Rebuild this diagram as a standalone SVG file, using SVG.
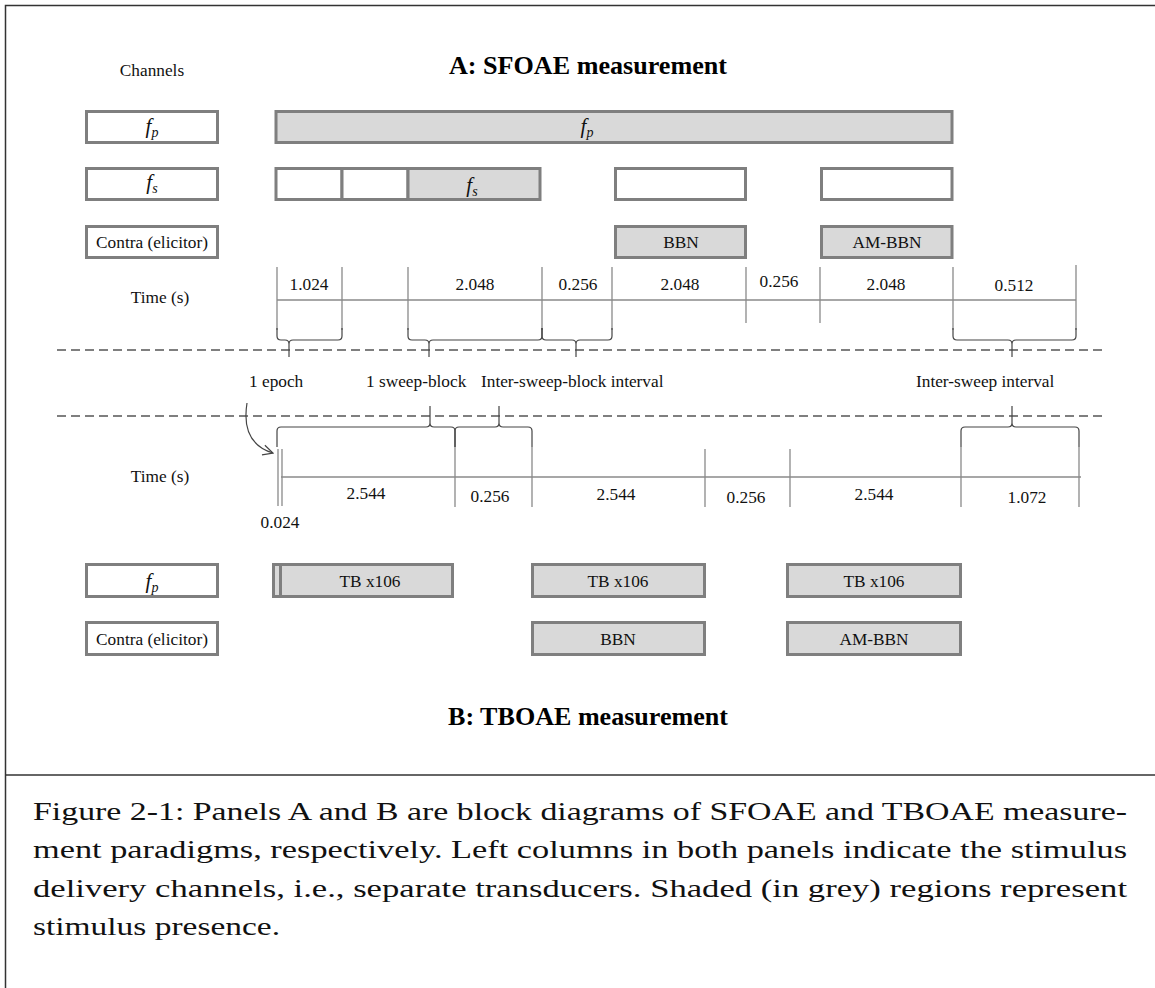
<svg xmlns="http://www.w3.org/2000/svg" width="1155" height="988" viewBox="0 0 1155 988">
  <defs>
    <style>
      .t { font-family: "Liberation Serif", "Times New Roman", serif; font-size: 17.3px; fill: #111; }
      .c { text-anchor: middle; }
      .it { font-style: italic; }
      .title { font-family: "Liberation Serif", "Times New Roman", serif; font-size: 26px; font-weight: bold; fill: #000; text-anchor: middle; }
      .cap { font-family: "Liberation Serif", "Times New Roman", serif; font-size: 25px; fill: #111; }
      .box { fill: #ffffff; stroke: #7f7f7f; stroke-width: 3; }
      .on { fill: #d9d9d9; stroke: #7f7f7f; stroke-width: 3; }
      .tick { stroke: #8a8a8a; stroke-width: 1.3; fill: none; }
      .brace { stroke: #444; stroke-width: 1.2; fill: none; }
      .dash { stroke: #555; stroke-width: 1.5; stroke-dasharray: 9 5; fill: none; }
      .frame { stroke: #333; stroke-width: 1.5; fill: none; }
    </style>
    <marker id="open" viewBox="0 0 12 12" refX="11" refY="6" markerWidth="12" markerHeight="12" markerUnits="userSpaceOnUse" orient="auto">
      <path d="M1,1 L11,6 L1,11" fill="none" stroke="#444" stroke-width="1.2"/>
    </marker>
  </defs>

  <rect width="1155" height="988" fill="#ffffff"/>

  <!-- frame and caption separator -->
  <g id="frame">
    <path class="frame" d="M5.5,988 V5.5 H1155"/>
    <path class="frame" d="M5.5,775 H1155"/>
  </g>

  <!-- panel A -->
  <g id="panelA">
    <text class="t c" x="152" y="76">Channels</text>
    <text class="title" x="588" y="74" textLength="278" lengthAdjust="spacingAndGlyphs">A: SFOAE measurement</text>

    <g id="chanA-fp">
      <rect class="box" x="86.5" y="111.5" width="131" height="31"/>
      <text class="t c it" x="152" y="133"><tspan font-size="21">f</tspan><tspan font-size="14" dy="4">p</tspan></text>
    </g>
    <g id="chanA-fs">
      <rect class="box" x="86.5" y="168.5" width="131" height="31"/>
      <text class="t c it" x="152" y="189"><tspan font-size="21">f</tspan><tspan font-size="14" dy="4">s</tspan></text>
    </g>
    <g id="chanA-contra">
      <rect class="box" x="86.5" y="226.5" width="131" height="31"/>
      <text class="t c" x="152" y="248">Contra (elicitor)</text>
    </g>

    <g id="A-fp-bar">
      <rect class="on" x="276" y="111.5" width="676" height="31"/>
      <text class="t c it" x="587" y="133"><tspan font-size="21">f</tspan><tspan font-size="14" dy="4">p</tspan></text>
    </g>
    <g id="A-fs-1"><rect class="box" x="276" y="168.5" width="66" height="31"/></g>
    <g id="A-fs-2"><rect class="box" x="342" y="168.5" width="66" height="31"/></g>
    <g id="A-fs-3">
      <rect class="on" x="408" y="168.5" width="132" height="31"/>
      <text class="t c it" x="472" y="192"><tspan font-size="21">f</tspan><tspan font-size="14" dy="4">s</tspan></text>
    </g>
    <g id="A-fs-4"><rect class="box" x="615.5" y="168.5" width="130" height="31"/></g>
    <g id="A-fs-5"><rect class="box" x="821.5" y="168.5" width="130.5" height="31"/></g>
    <g id="A-bbn">
      <rect class="on" x="615.5" y="226.5" width="130" height="31"/>
      <text class="t c" x="681" y="248">BBN</text>
    </g>
    <g id="A-ambbn">
      <rect class="on" x="821.5" y="226.5" width="130.5" height="31"/>
      <text class="t c" x="887" y="248">AM-BBN</text>
    </g>

    <g id="A-time">
      <text class="t c" x="160" y="303">Time (s)</text>
      <text class="t c" x="309" y="290">1.024</text>
      <text class="t c" x="475" y="290">2.048</text>
      <text class="t c" x="578" y="290">0.256</text>
      <text class="t c" x="680" y="290">2.048</text>
      <text class="t c" x="779" y="287">0.256</text>
      <text class="t c" x="886" y="290">2.048</text>
      <text class="t c" x="1014" y="291">0.512</text>
    </g>
  </g>

  <!-- dashed separators and interval names -->
  <g id="legend">
    <line class="dash" x1="57" y1="350" x2="1105" y2="350"/>
    <line class="dash" x1="57" y1="416" x2="1105" y2="416"/>
    <text class="t" x="249" y="387">1 epoch</text>
    <text class="t" x="366" y="387">1 sweep-block</text>
    <text class="t" x="481" y="387">Inter-sweep-block interval</text>
    <text class="t" x="916" y="387">Inter-sweep interval</text>
  </g>

  <!-- panel B -->
  <g id="panelB">
    <g id="B-time">
      <text class="t c" x="160" y="482">Time (s)</text>
      <text class="t c" x="366" y="499">2.544</text>
      <text class="t c" x="490" y="502">0.256</text>
      <text class="t c" x="616" y="500">2.544</text>
      <text class="t c" x="746" y="503">0.256</text>
      <text class="t c" x="874" y="500">2.544</text>
      <text class="t c" x="1027" y="503">1.072</text>
      <text class="t c" x="280" y="528">0.024</text>
    </g>

    <g id="chanB-fp">
      <rect class="box" x="86.5" y="564.5" width="131" height="32"/>
      <text class="t c it" x="152" y="588"><tspan font-size="21">f</tspan><tspan font-size="14" dy="4">p</tspan></text>
    </g>
    <g id="chanB-contra">
      <rect class="box" x="86.5" y="622.5" width="131" height="32"/>
      <text class="t c" x="152" y="645">Contra (elicitor)</text>
    </g>

    <g id="B-tb-1">
      <rect class="on" x="273.5" y="564.5" width="7" height="32"/>
      <rect class="on" x="280.5" y="564.5" width="172" height="32"/>
      <text class="t c" x="370" y="587">TB x106</text>
    </g>
    <g id="B-tb-2">
      <rect class="on" x="532.5" y="564.5" width="172" height="32"/>
      <text class="t c" x="618" y="587">TB x106</text>
    </g>
    <g id="B-tb-3">
      <rect class="on" x="787.5" y="564.5" width="173" height="32"/>
      <text class="t c" x="874" y="587">TB x106</text>
    </g>
    <g id="B-bbn">
      <rect class="on" x="532.5" y="622.5" width="172" height="32"/>
      <text class="t c" x="618" y="645">BBN</text>
    </g>
    <g id="B-ambbn">
      <rect class="on" x="787.5" y="622.5" width="173" height="32"/>
      <text class="t c" x="874" y="645">AM-BBN</text>
    </g>

    <text class="title" x="588" y="725" textLength="280" lengthAdjust="spacingAndGlyphs">B: TBOAE measurement</text>
  </g>

  <!-- time axes, ticks, braces and the epoch arrow -->
  <g id="connectors">
    <!-- axis A -->
    <line class="tick" x1="277" y1="300" x2="1076" y2="300"/>
    <path class="tick" d="M277,267 V330 M342,267 V330 M408,267 V330 M542,267 V330 M612,267 V330 M746,267 V323 M820,267 V323 M953,267 V330 M1076,265 V330"/>
    <!-- braces under axis A -->
    <path class="brace" d="M277,328 V336 Q277,340 281,340 H285 Q289,340 289,344 V357 M289,344 Q289,340 293,340 H338 Q342,340 342,336 V328"/>
    <path class="brace" d="M408,328 V336 Q408,340 412,340 H425 Q429,340 429,344 V357 M429,344 Q429,340 433,340 H538 Q542,340 542,336 V328"/>
    <path class="brace" d="M542,328 V336 Q542,340 546,340 H572 Q576,340 576,344 V357 M576,344 Q576,340 580,340 H608 Q612,340 612,336 V328"/>
    <path class="brace" d="M953,328 V336 Q953,340 957,340 H1008 Q1012,340 1012,344 V357 M1012,344 Q1012,340 1016,340 H1072 Q1076,340 1076,336 V328"/>

    <!-- axis B -->
    <line class="tick" x1="281" y1="477" x2="1081" y2="477"/>
    <path class="tick" stroke="#a8a8a8" d="M278,449 V506 M282,449 V506"/>
    <path class="tick" d="M455,447 V507 M532,447 V507 M705,449 V507 M790,449 V507 M961,447 V507 M1079,447 V507"/>
    <!-- braces over axis B -->
    <path class="brace" d="M277,447 V431 Q277,427 281,427 H426 Q430,427 430,423 V406 M430,423 Q430,427 434,427 H451 Q455,427 455,431 V447"/>
    <path class="brace" d="M455,447 V431 Q455,427 459,427 H495 Q499,427 499,423 V406 M499,423 Q499,427 503,427 H528 Q532,427 532,431 V447"/>
    <path class="brace" d="M961,447 V431 Q961,427 965,427 H1008 Q1012,427 1012,423 V406 M1012,423 Q1012,427 1016,427 H1075 Q1079,427 1079,431 V447"/>

    <!-- epoch pointer -->
    <path class="brace" d="M247,403 C243,428 250,446 273,453" marker-end="url(#open)"/>
  </g>

  <!-- caption -->
  <g id="caption">
    <text class="cap" x="33" y="820" textLength="1094" lengthAdjust="spacingAndGlyphs">Figure 2-1: Panels A and B are block diagrams of SFOAE and TBOAE measure-</text>
    <text class="cap" x="33" y="858" textLength="1094" lengthAdjust="spacingAndGlyphs">ment paradigms, respectively. Left columns in both panels indicate the stimulus</text>
    <text class="cap" x="33" y="897" textLength="1094" lengthAdjust="spacingAndGlyphs">delivery channels, i.e., separate transducers.  Shaded (in grey) regions represent</text>
    <text class="cap" x="33" y="935" textLength="247" lengthAdjust="spacingAndGlyphs">stimulus presence.</text>
  </g>
</svg>
